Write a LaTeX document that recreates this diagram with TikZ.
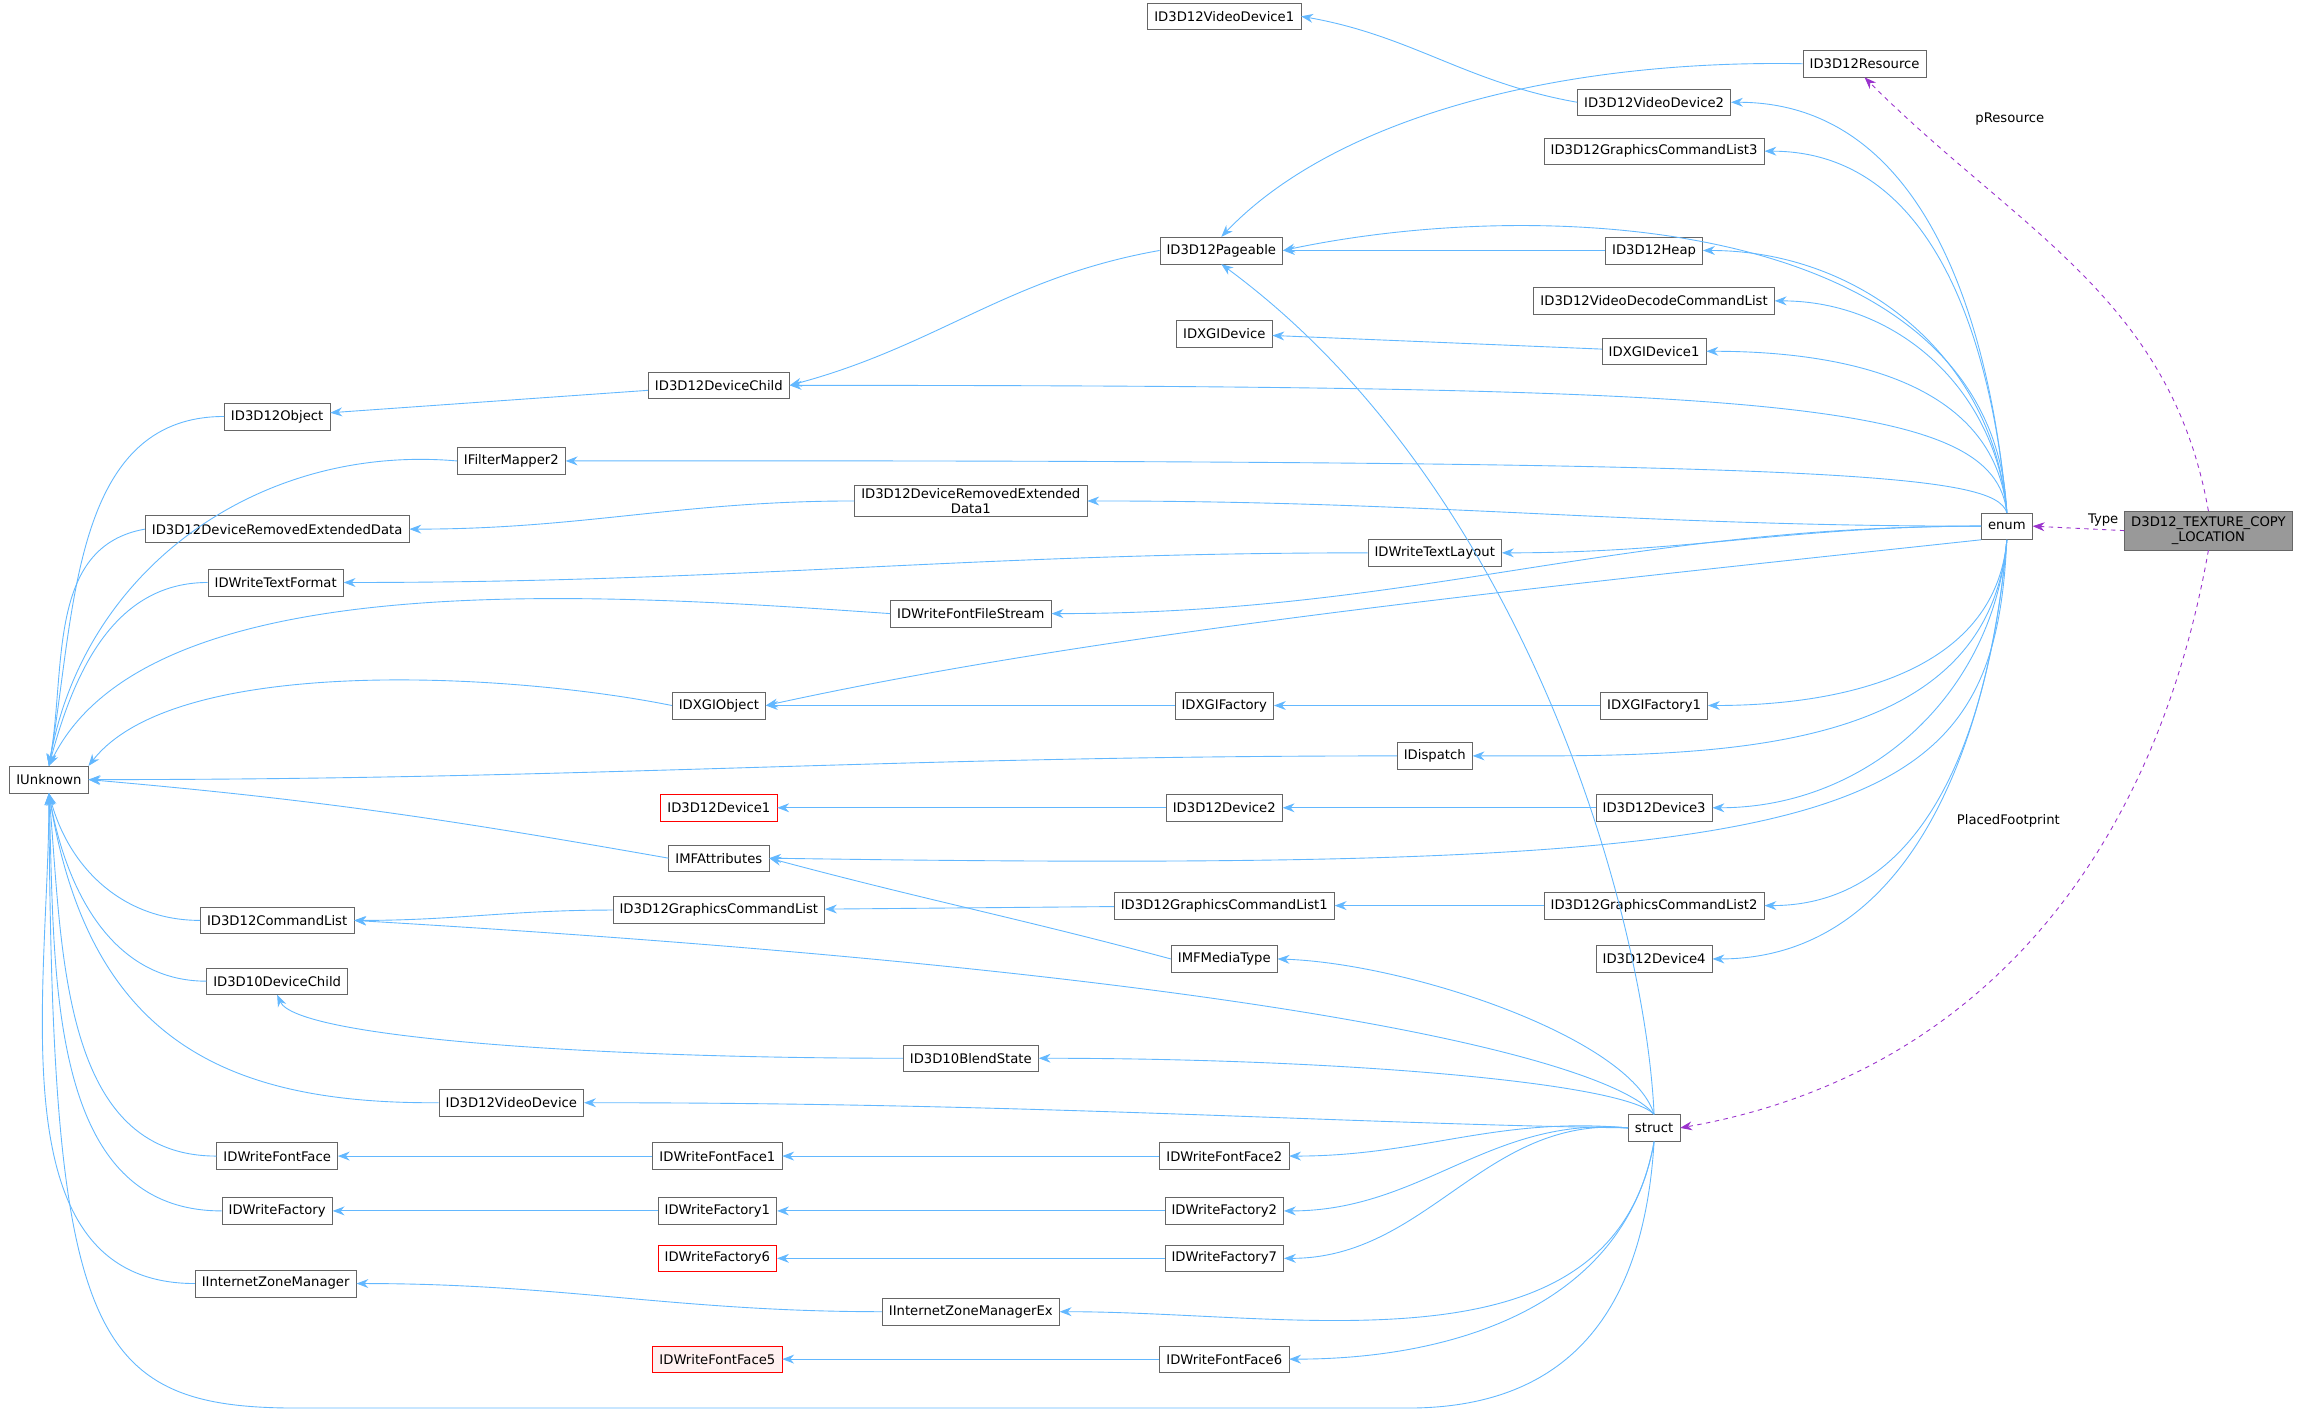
\documentclass[tikz,border=0pt]{standalone}
\usepackage{fontspec}
\setmainfont{DejaVu Sans}
\usetikzlibrary{arrows.meta}
\definecolor{edgeb}{HTML}{63B8FF}
\definecolor{boxd}{HTML}{666666}
\definecolor{purp}{HTML}{9A32CD}
\begin{document}
\begin{tikzpicture}[x=1pt,y=-1pt,
  box/.style={draw=boxd,fill=white,minimum height=18pt,inner xsep=4.5pt,inner ysep=2pt,font=\fontsize{8.9}{10}\selectfont,align=center},
  redbox/.style={box,draw=red},
  inh/.style={draw=edgeb,line width=0.6pt,-{Stealth[length=8pt,width=6pt]}},
  use/.style={draw=purp,line width=0.6pt,dashed,-{Stealth[length=8pt,width=6pt]}},
  lab/.style={font=\fontsize{8.9}{10}\selectfont}]
\useasboundingbox (0,0) rectangle (1568,960);
\node[box] (vd1) at (826,11) {ID3D12VideoDevice1};
\node[box] (res) at (1258,43) {ID3D12Resource};
\node[box] (vd2) at (1116,69) {ID3D12VideoDevice2};
\node[box] (gcl3) at (1116,102) {ID3D12GraphicsCommandList3};
\node[box] (page) at (824,169) {ID3D12Pageable};
\node[box] (heap) at (1116,169) {ID3D12Heap};
\node[box] (vdcl) at (1116,203) {ID3D12VideoDecodeCommandList};
\node[box] (dxd) at (826,225) {IDXGIDevice};
\node[box] (dxd1) at (1116,237) {IDXGIDevice1};
\node[box] (dch) at (485,260) {ID3D12DeviceChild};
\node[box] (obj) at (187,281) {ID3D12Object};
\node[box] (ifm) at (345,311) {IFilterMapper2};
\node[box] (dred1) at (655,338) {ID3D12DeviceRemovedExtended\\Data1};
\node[box] (dred) at (187,357) {ID3D12DeviceRemovedExtendedData};
\node[box] (enum) at (1354,355) {enum};
\node[box,fill=gray!80,minimum height=26pt] (main) at (1490,358) {D3D12\_TEXTURE\_COPY\\\_LOCATION};
\node[box] (tl) at (968,373) {IDWriteTextLayout};
\node[box] (tf) at (186,393) {IDWriteTextFormat};
\node[box] (ffs) at (655,414) {IDWriteFontFileStream};
\node[box] (dxo) at (485,476) {IDXGIObject};
\node[box] (dxf) at (826,476) {IDXGIFactory};
\node[box] (dxf1) at (1116,476) {IDXGIFactory1};
\node[box] (disp) at (968,510) {IDispatch};
\node[box] (unk) at (33,526) {IUnknown};
\node[redbox] (dev1) at (485,545) {ID3D12Device1};
\node[box] (dev2) at (826,545) {ID3D12Device2};
\node[box] (dev3) at (1116,545) {ID3D12Device3};
\node[box] (mfa) at (485,579) {IMFAttributes};
\node[box] (cl) at (187,621) {ID3D12CommandList};
\node[box] (gcl) at (485,614) {ID3D12GraphicsCommandList};
\node[box] (gcl1) at (826,611) {ID3D12GraphicsCommandList1};
\node[box] (gcl2) at (1116,611) {ID3D12GraphicsCommandList2};
\node[box] (mfm) at (826,647) {IMFMediaType};
\node[box] (dev4) at (1116,647) {ID3D12Device4};
\node[box] (d10) at (187,662) {ID3D10DeviceChild};
\node[box] (bs) at (655,714) {ID3D10BlendState};
\node[box] (vd) at (345,744) {ID3D12VideoDevice};
\node[box] (struct) at (1116,761) {struct};
\node[box] (ff) at (187,780) {IDWriteFontFace};
\node[box] (ff1) at (484,780) {IDWriteFontFace1};
\node[box] (ff2) at (826,780) {IDWriteFontFace2};
\node[box] (fa) at (187,817) {IDWriteFactory};
\node[box] (fa1) at (484,817) {IDWriteFactory1};
\node[box] (fa2) at (826,817) {IDWriteFactory2};
\node[redbox] (fa6) at (484,849) {IDWriteFactory6};
\node[box] (fa7) at (826,849) {IDWriteFactory7};
\node[box] (izm) at (186,866) {IInternetZoneManager};
\node[box] (izmx) at (655,885) {IInternetZoneManagerEx};
\node[redbox,fill=red!6] (ff5) at (484,917) {IDWriteFontFace5};
\node[box] (ff6) at (826,917) {IDWriteFontFace6};
% simple chains
\draw[inh] (vd2.west) to[out=170,in=-10] (vd1.east);
\draw[inh] (res.west) .. controls (1050,40) and (900,80) .. (page.north);
\draw[inh] (heap) -- (page);
\draw[inh] (page.west) to[out=190,in=15] (dch.east);
\draw[inh] (dxd1) -- (dxd);
\draw[inh] (dch) -- (obj);
\draw[inh] (dred1.west) to[out=180,in=0] (dred.east);
\draw[inh] (tl.west) to[out=180,in=0] (tf.east);
\draw[inh] (dxf) -- (dxo);
\draw[inh] (dxf1) -- (dxf);
\draw[inh] (dev2) -- (dev1);
\draw[inh] (dev3) -- (dev2);
\draw[inh] (gcl.west) to[out=180,in=0] (cl.east);
\draw[inh] (gcl1) -- (gcl);
\draw[inh] (gcl2) -- (gcl1);
\draw[inh] (mfm.west) to[out=165,in=-15] (mfa.east);
\draw[inh] (bs.west) .. controls (400,714) and (200,700) .. (d10.south);
\draw[inh] (ff1) -- (ff);
\draw[inh] (ff2) -- (ff1);
\draw[inh] (fa1) -- (fa);
\draw[inh] (fa2) -- (fa1);
\draw[inh] (fa7) -- (fa6);
\draw[inh] (izmx.west) to[out=180,in=0] (izm.east);
\draw[inh] (ff6) -- (ff5);
% to IUnknown
\draw[inh] (obj.west) to[out=180,in=80] (unk.north);
\draw[inh] (ifm.west) to[out=175,in=80] (unk.north);
\draw[inh] (dred.west) to[out=190,in=80] (unk.north);
\draw[inh] (tf.west) to[out=180,in=75] (unk.north);
\draw[inh] (ffs.west) .. controls (400,400) and (100,380) .. (unk.north);
\draw[inh] (dxo.west) .. controls (350,455) and (120,440) .. (unk.north east);
\draw[inh] (disp.west) to[out=180,in=0] (unk.east);
\draw[inh] (mfa.west) to[out=170,in=-5] (unk.east);
\draw[inh] (cl.west) to[out=180,in=-75] (unk.south);
\draw[inh] (d10.west) to[out=180,in=-80] (unk.south);
\draw[inh] (vd.west) .. controls (150,745) and (60,700) .. (unk.south);
\draw[inh] (ff.west) to[out=180,in=-85] (unk.south);
\draw[inh] (fa.west) to[out=180,in=-88] (unk.south);
\draw[inh] (izm.west) to[out=180,in=-90] (unk.south);
\draw[inh] (struct.south) .. controls (1110,870) and (1070,950) .. (950,950) -- (200,950) .. controls (60,950) and (35,900) .. (unk.south);
% from enum
\foreach \t in {vd2,gcl3,heap,vdcl,dxd1}
  \draw[inh] (enum.north) to[out=95,in=0] (\t.east);
\draw[inh] (enum.north) .. controls (1345,150) and (1050,130) .. (page.east);
\draw[inh] (enum.north) .. controls (1345,270) and (1200,260) .. (dch.east);
\draw[inh] (enum.north) .. controls (1345,320) and (1250,310) .. (ifm.east);
\foreach \t in {dred1,tl,ffs}
  \draw[inh] (enum.west) to[out=180,in=0] (\t.east);
\draw[inh] (enum.south west) .. controls (1050,395) and (750,425) .. (dxo.east);
\foreach \t in {dxf1,disp,dev3,gcl2,dev4}
  \draw[inh] (enum.south) to[out=265,in=0] (\t.east);
\draw[inh] (enum.south) .. controls (1345,560) and (1250,590) .. (mfa.east);
% from struct
\draw[inh] (struct.north) .. controls (1110,620) and (1030,330) .. (page.south);
\draw[inh] (struct.north) .. controls (1090,720) and (900,660) .. (cl.east);
\draw[inh] (struct.north) .. controls (1100,700) and (950,650) .. (mfm.east);
\draw[inh] (struct.north) .. controls (1095,730) and (900,714) .. (bs.east);
\draw[inh] (struct.west) .. controls (900,758) and (700,744) .. (vd.east);
\foreach \t in {ff2,fa2,fa7}
  \draw[inh] (struct.west) to[out=175,in=0] (\t.east);
\foreach \t in {izmx,ff6}
  \draw[inh] (struct.south) to[out=260,in=0] (\t.east);
% usage
\draw[use] (main.north) to[out=100,in=-45] (res.south);
\node[lab] (lres) at (1356,80) {pResource};
\draw[use] (main.west) -- (enum.east);
\node[lab] (ltype) at (1419,351) {Type};
\draw[use] (main.south) to[out=260,in=10] (struct.east);
\node[lab] (lpf) at (1355,554) {PlacedFootprint};
\end{tikzpicture}
\end{document}
